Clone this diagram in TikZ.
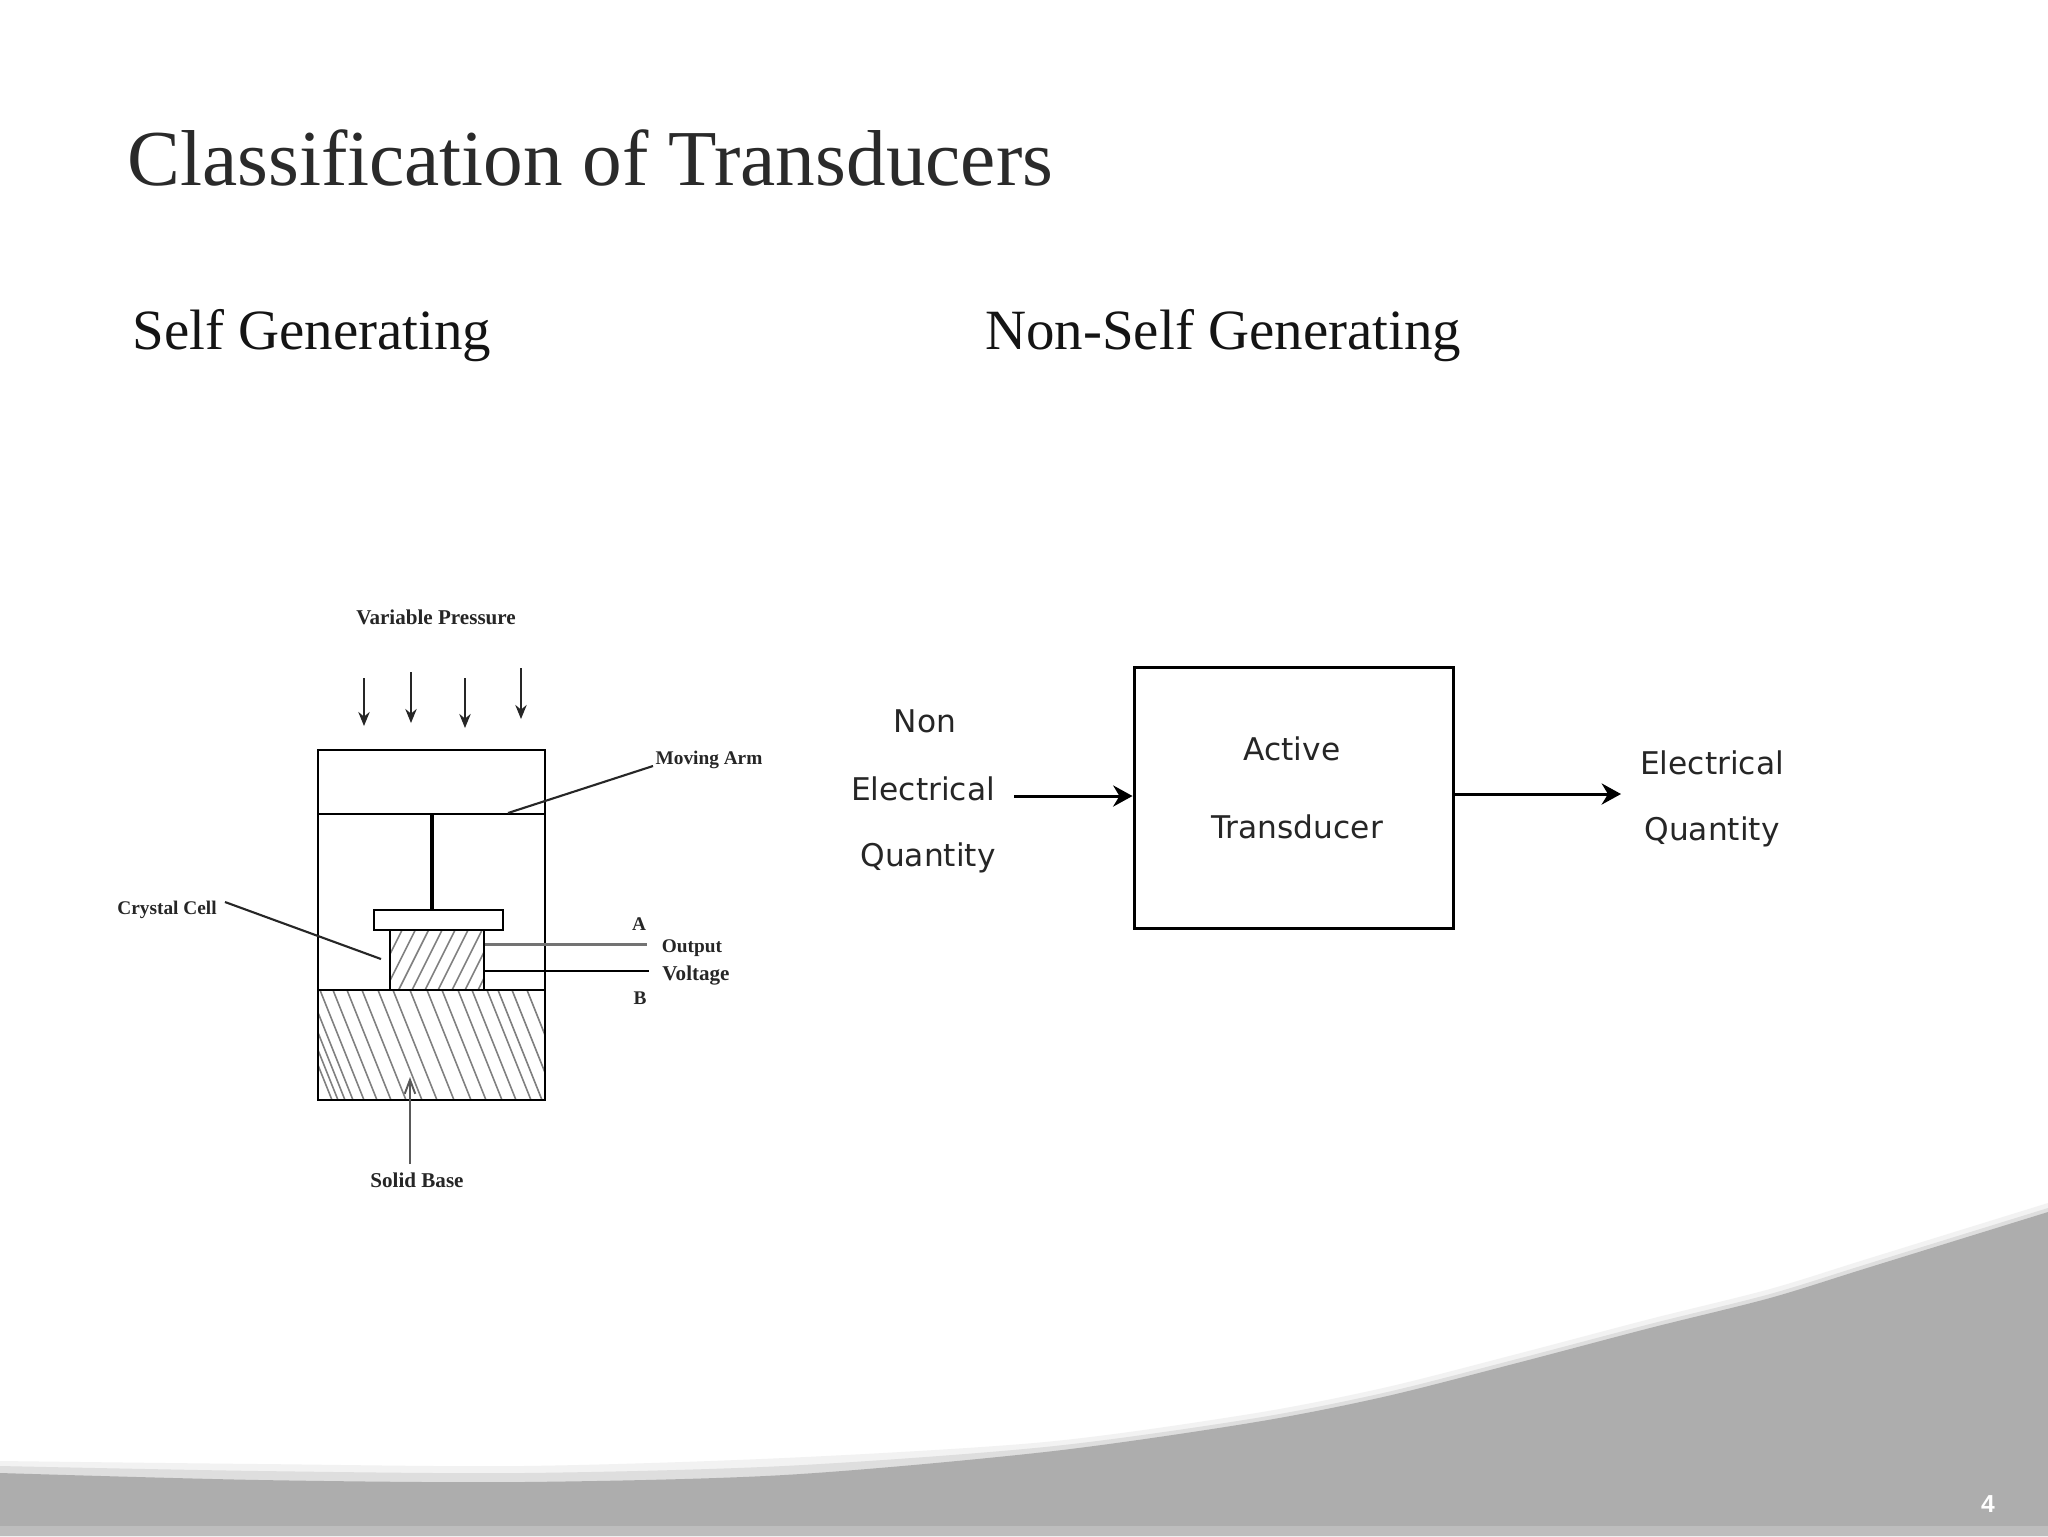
\documentclass[tikz,border=0pt]{standalone}
\usepackage{fontspec}
\setmainfont{Liberation Serif}
\newfontfamily\dvs{DejaVu Sans}
\newfontfamily\lsans{Liberation Sans}
\usetikzlibrary{arrows.meta}
\definecolor{band}{HTML}{ADADAD}
\definecolor{bandlow}{HTML}{BDBDBD}
\definecolor{ink}{HTML}{262626}
\definecolor{titleink}{HTML}{2A2A2A}
\tikzset{
  headline/.style={font=\fontsize{45.1}{45}\selectfont,text=titleink,anchor=base west,inner sep=0pt},
  subhead/.style={font=\fontsize{32.4}{32}\selectfont,text=black!92,anchor=base west,inner sep=0pt},
  smalllabel/.style={font=\fontsize{11}{11}\selectfont\bfseries,text=ink,inner sep=0pt},
  widelabel/.style={font=\fontsize{12}{12}\selectfont\bfseries,text=ink,inner sep=0pt},
  sanslabel/.style={font=\dvs\fontsize{17.8}{18}\selectfont,text=ink,inner sep=0pt},
  partbox/.style={draw=black,line width=1.5pt,fill=none,inner sep=0pt,rectangle},
  leader/.style={draw=ink,line width=1.2pt},
  pressarrow/.style={draw=ink,line width=0.8pt,-{Stealth[length=8pt,width=6.5pt]}},
  flowarrow/.style={draw=black,line width=1.7pt,-{Stealth[length=11pt,width=12pt]}},
  hatchline/.style={draw=black!50,line width=0.9pt},
}
\begin{document}
\begin{tikzpicture}[x=0.02cm,y=-0.02cm]
\useasboundingbox (0,0) rectangle (2048,1536);
\fill[white] (0,0) rectangle (2048,1536);
% footer swoosh
\fill[black!5] plot[smooth] coordinates {(0,1461) (260,1464) (522,1466) (784,1458) (1045,1442) (1250,1414) (1383,1388) (1517,1354) (1650,1319) (1770,1289) (1867,1259) (2048,1203)} -- (2048,1536) -- (0,1536) -- cycle;
\fill[black!13] plot[smooth] coordinates {(0,1466) (260,1471) (522,1473) (784,1466) (1045,1447) (1250,1419) (1383,1393) (1517,1359) (1650,1324) (1770,1294) (1867,1264) (2048,1208)} -- (2048,1536) -- (0,1536) -- cycle;
\fill[band] plot[smooth] coordinates {(0,1473) (260,1480) (522,1482) (784,1475) (1045,1452) (1250,1423) (1383,1397) (1517,1363) (1650,1328) (1770,1298) (1867,1268) (2048,1212)} -- (2048,1536) -- (0,1536) -- cycle;
\fill[bandlow] (0,1526) rectangle (2048,1536);
\node[font=\lsans\bfseries\fontsize{14}{14}\selectfont,text=white,inner sep=0pt] (pagenum) at (1988,1504) {4};
% titles
\node[headline] (title) at (127,185) {Classification of Transducers};
\node[subhead] (selfgen) at (132,349) {Self Generating};
\node[subhead] (nonself) at (985,349) {Non-Self Generating};
% left diagram
\node[widelabel] (varp) at (436,617) {Variable Pressure};
\foreach \n/\x/\a/\b in {1/364/678/726,2/411/672/723,3/465/678/728,4/521/668/719}{
  \coordinate (ps\n) at (\x,\a); \coordinate (pe\n) at (\x,\b);
  \draw[pressarrow] (ps\n) -- (pe\n);
}
% hatching
\begin{scope}
\clip (318,990) rectangle (545,1100);
\foreach \x in {288,294,301,309,320,333,347,362,378,393,410,427,442,458,472,487,498,512,527}{
  \draw[hatchline] (\x,990) -- (\x+44,1100);
}
\end{scope}
\begin{scope}
\clip (390,930) rectangle (484,990);
\foreach \x in {372,385.3,398.6,412,425,438,452,465,478}{
  \draw[hatchline] (\x+30,930) -- (\x,990);
}
\end{scope}
\coordinate (armL) at (318,814); \coordinate (armR) at (545,814);
\node[partbox,minimum width=227*0.02cm,minimum height=350*0.02cm] (frame) at (431.5,925) {};
\node[partbox,minimum width=227*0.02cm,minimum height=110*0.02cm] (base) at (431.5,1045) {};
\draw[line width=1.5pt] (armL) -- (armR);
\node[partbox,minimum width=129*0.02cm,minimum height=20*0.02cm] (plate) at (438.5,920) {};
\node[partbox,minimum width=94*0.02cm,minimum height=60*0.02cm] (crystal) at (437,960) {};
\coordinate (stemtop) at (432,814);
\draw[line width=1.9pt] (stemtop) -- (stemtop |- plate.north);
\coordinate (aEnd) at (647,944.5);
\coordinate (bEnd) at (649,971);
\draw[draw=black!55,line width=1.3pt] (crystal.east |- aEnd) -- (aEnd);
\draw[draw=black,line width=1.2pt] (crystal.east |- bEnd) -- (bEnd);
\node[smalllabel] (lblA) at (639,924) {A};
\node[smalllabel] (lblB) at (640,998) {B};
\node[smalllabel] (lblOut) at (692,948) {Output};
\node[widelabel] (lblVolt) at (696,975) {Voltage};
\node[smalllabel] (lblArm) at (709,760) {Moving Arm};
\coordinate (armTip) at (508,813);
\coordinate (armStart) at (653,766);
\draw[leader] (armStart) -- (armTip);
\node[smalllabel] (lblCell) at (167,910) {Crystal Cell};
\coordinate (cellTip) at (381,959);
\coordinate (cellStart) at (225,902);
\draw[leader] (cellStart) -- (cellTip);
\node[widelabel] (lblBase) at (417,1180) {Solid Base};
\coordinate (baseTip) at (410,1077);
\coordinate (baseStart) at (410,1164);
\draw[draw=black!65,line width=1.1pt,-{Straight Barb[length=8pt,width=6pt]}] (baseStart) -- (baseTip);
% right diagram
\node[partbox,line width=1.7pt,minimum width=319*0.02cm,minimum height=261*0.02cm] (active) at (1293.5,797.5) {};
\node[sanslabel] (tActive) at (1292,749) {Active};
\node[sanslabel] (tTrans) at (1297,827) {Transducer};
\node[sanslabel] (tNon) at (925,721) {Non};
\node[sanslabel] (tElec) at (923,789) {Electrical};
\node[sanslabel] (tQuant) at (928,858) {Quantity};
\node[sanslabel] (tElecR) at (1712,763) {Electrical};
\node[sanslabel] (tQuantR) at (1712,832) {Quantity};
\coordinate (inStart) at (1014,796);
\coordinate (outEnd) at (1621,794);
\draw[flowarrow] (inStart) -- (active.west |- inStart);
\draw[flowarrow] (active.east |- outEnd) -- (outEnd);
\end{tikzpicture}
\end{document}
